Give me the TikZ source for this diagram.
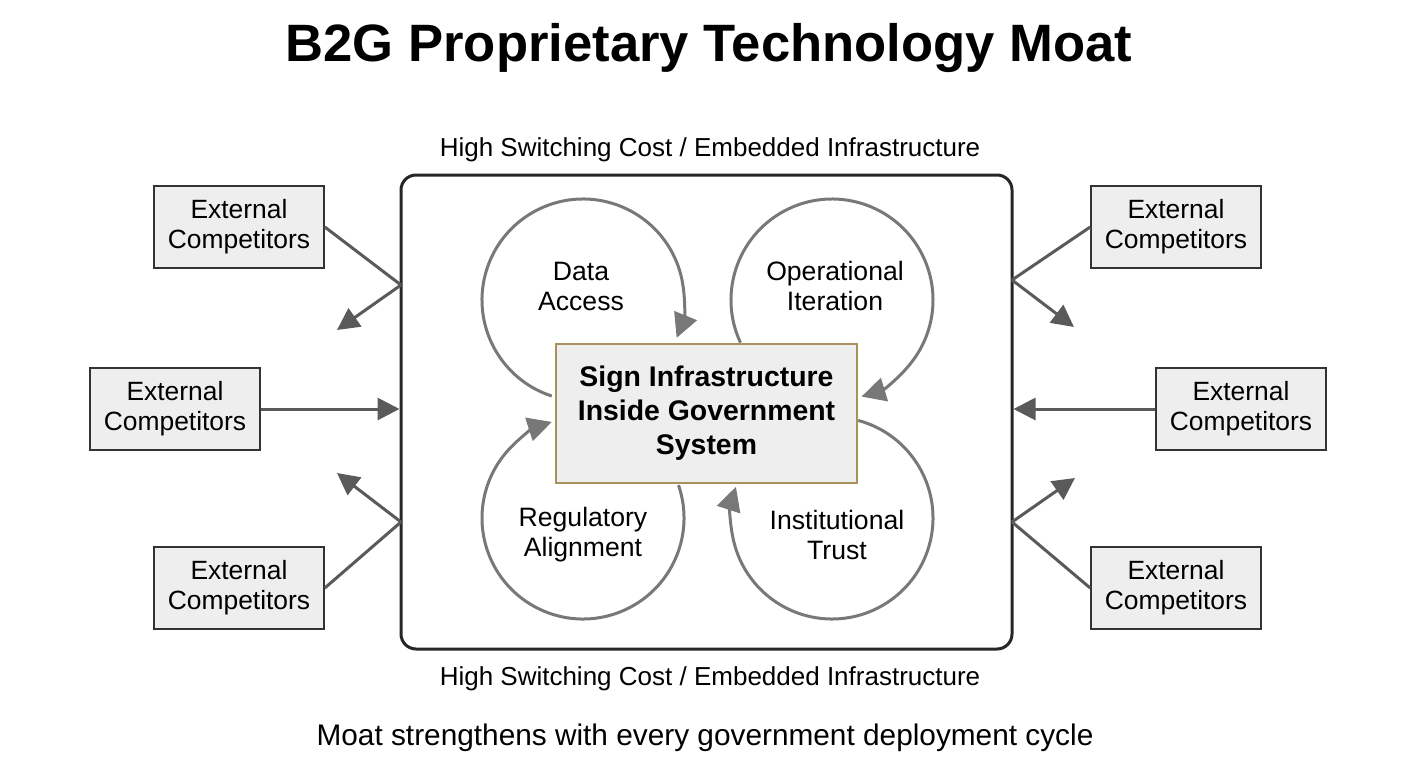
\documentclass[tikz,border=0pt]{standalone}
\usepackage{fontspec}
\setmainfont{Liberation Sans}
\usetikzlibrary{arrows.meta,positioning}
\definecolor{moatgold}{RGB}{168,145,90}
\definecolor{loopgray}{RGB}{120,120,120}
\definecolor{hitgray}{RGB}{90,90,90}
\definecolor{boxfill}{RGB}{238,238,238}
\tikzset{
  compbox/.style={draw=black!80, line width=0.8pt, fill=boxfill, minimum width=85pt,
    minimum height=41pt, align=center, inner sep=1pt, font=\fontsize{13.2}{15}\selectfont},
  corebox/.style={draw=moatgold, line width=1.3pt, fill=boxfill, minimum width=150.5pt,
    minimum height=69.5pt, align=center, font=\bfseries\fontsize{14.2}{17}\selectfont},
  moatbox/.style={draw=black!85, line width=1.5pt, rounded corners=7.5pt,
    minimum width=305.5pt, minimum height=237pt},
  looplabel/.style={align=center, font=\fontsize{13.3}{15}\selectfont},
  loopline/.style={draw=loopgray, line width=1.5pt, -{Triangle[length=12pt,width=12pt]}},
  hitline/.style={draw=hitgray, line width=1.5pt},
  hitarrow/.style={hitline, -{Triangle[length=11pt,width=11pt]}},
}
\begin{document}
\begin{tikzpicture}[x=0.5pt, y=0.5pt]
  \useasboundingbox (0,0) rectangle (1408,768);
  % Titre
  \node[font=\bfseries\fontsize{26.3}{30}\selectfont] (title) at (709,720) {B2G Proprietary Technology Moat};
  % Douve
  \node[moatbox] (moat) at (706.5,356) {};
  \node[font=\fontsize{13}{15}\selectfont] (costtop) at (710,618) {High Switching Cost / Embedded Infrastructure};
  \node[font=\fontsize{13}{15}\selectfont] (costbot) at (710,89) {High Switching Cost / Embedded Infrastructure};
  \node[font=\fontsize{14.9}{17}\selectfont] (caption) at (705,30) {Moat strengthens with every government deployment cycle};
  % Boucles
  \coordinate (cDA) at (583,468);
  \coordinate (cOI) at (832,468);
  \coordinate (cRA) at (583,250);
  \coordinate (cIT) at (832,250);
  \draw[loopline] (cDA) ++(252:101) arc[start angle=252, end angle=-22, radius=101];
  \draw[loopline] (cOI) ++(205:101) arc[start angle=205, end angle=-73, radius=101];
  \draw[loopline] (cRA) ++(19:101) arc[start angle=19, end angle=-252, radius=101];
  \draw[loopline] (cIT) ++(75:101) arc[start angle=75, end angle=-198, radius=101];
  \node[looplabel] (dacc) at (581,482) {Data\\Access};
  \node[looplabel] (opit) at (835,482) {Operational\\Iteration};
  \node[looplabel] (regal) at (583,233) {Regulatory\\Alignment};
  \node[looplabel] (trust) at (837,233) {Institutional\\Trust};
  % Coeur
  \node[corebox] (core) at (706.5,354.5) {Sign Infrastructure\\Inside Government\\System};
  % Concurrents
  \node[compbox] (compLT) at (239,541) {External\\Competitors};
  \node[compbox] (compLM) at (175,359) {External\\Competitors};
  \node[compbox] (compLB) at (239,180) {External\\Competitors};
  \node[compbox] (compRT) at (1176,541) {External\\Competitors};
  \node[compbox] (compRM) at (1241,359) {External\\Competitors};
  \node[compbox] (compRB) at (1176,180) {External\\Competitors};
  % Rebonds
  \coordinate (hitLT) at (401,483);
  \coordinate (tipLT) at (337,438);
  \coordinate (hitLB) at (401,246);
  \coordinate (tipLB) at (337,295);
  \coordinate (hitRT) at (1012,488);
  \coordinate (tipRT) at (1074,441);
  \coordinate (hitRB) at (1012,246);
  \coordinate (tipRB) at (1075,290);
  \draw[hitline] (compLT.east) -- (hitLT);
  \draw[hitarrow] (hitLT) -- (tipLT);
  \draw[hitline] (compLB.east) -- (hitLB);
  \draw[hitarrow] (hitLB) -- (tipLB);
  \draw[hitline] (compRT.west) -- (hitRT);
  \draw[hitarrow] (hitRT) -- (tipRT);
  \draw[hitline] (compRB.west) -- (hitRB);
  \draw[hitarrow] (hitRB) -- (tipRB);
  \draw[hitarrow] (compLM.east) -- (compLM -| moat.west);
  \draw[hitarrow] (compRM.west) -- (compRM -| moat.east);
\end{tikzpicture}
\end{document}
